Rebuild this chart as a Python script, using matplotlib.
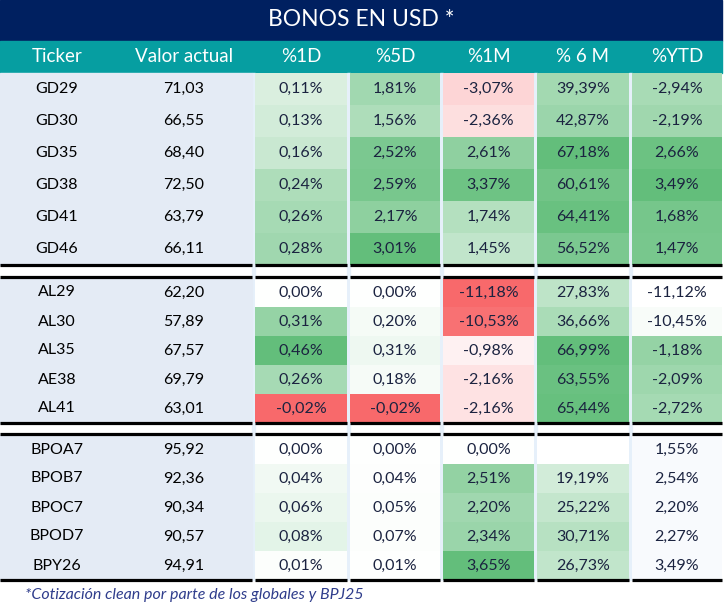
import matplotlib.pyplot as plt
from matplotlib.patches import Rectangle
from matplotlib.colors import LinearSegmentedColormap

# table data (3 groups of bonds)
tickers = ["GD29", "GD30", "GD35", "GD38", "GD41", "GD46",
           "AL29", "AL30", "AL35", "AE38", "AL41",
           "BPOA7", "BPOB7", "BPOC7", "BPOD7", "BPY26"]
group_sizes = [6, 5, 5]
valor = [71.03, 66.55, 68.40, 72.50, 63.79, 66.11,
         62.20, 57.89, 67.57, 69.79, 63.01,
         95.92, 92.36, 90.34, 90.57, 94.91]
var_1d = [0.11, 0.13, 0.16, 0.24, 0.26, 0.28,
          0.00, 0.31, 0.46, 0.26, -0.02,
          0.00, 0.04, 0.06, 0.08, 0.01]
var_5d = [1.81, 1.56, 2.52, 2.59, 2.17, 3.01,
          0.00, 0.20, 0.31, 0.18, -0.02,
          0.00, 0.04, 0.05, 0.07, 0.01]
var_1m = [-3.07, -2.36, 2.61, 3.37, 1.74, 1.45,
          -11.18, -10.53, -0.98, -2.16, -2.16,
          0.00, 2.51, 2.20, 2.34, 3.65]
var_6m = [39.39, 42.87, 67.18, 60.61, 64.41, 56.52,
          27.83, 36.66, 66.99, 63.55, 65.44,
          None, 19.19, 25.22, 30.71, 26.73]
var_ytd = [-2.94, -2.19, 2.66, 3.49, 1.68, 1.47,
           -11.12, -10.45, -1.18, -2.09, -2.72,
           1.55, 2.54, 2.20, 2.27, 3.49]

headers = ["Ticker", "Valor actual", "%1D", "%5D", "%1M", "% 6 M", "%YTD"]
title = "BONOS EN USD *"
note = "*Cotización clean por parte de los globales y BPJ25"

# layout in pixels
W, H = 724, 610
NAVY = "#002060"
TEAL = "#069ea1"
LEFT_BG = "#e4ebf5"
SEP = "#e6f0fa"
FONT = "Lato"

pct_cols = [(255, 347), (350, 440), (443, 534), (537, 629), (632, 722)]
row_h = [32, 29, 29]
group_top = [73, 278, 435]
lines_y = [265, 277, 423, 434, 580]

red_white_green = LinearSegmentedColormap.from_list("rwg", ["#f8696b", "#ffffff", "#63be7b"])
white_green = LinearSegmentedColormap.from_list("wg", ["#ffffff", "#63be7b"])


def diverging_color(v, vals):
    vals = [x for x in vals if x is not None]
    if v is None:
        return "#ffffff"
    if v >= 0:
        return red_white_green(0.5 + 0.5 * v / max(vals))
    return red_white_green(0.5 - 0.5 * v / min(vals))


def fmt(v):
    return "{:.2f}".format(v).replace(".", ",")


fig = plt.figure(figsize=(7.24, 6.10), dpi=100)
ax = fig.add_axes([0, 0, 1, 1])
ax.set_xlim(0, W)
ax.set_ylim(H, 0)
ax.axis("off")

# title bar and header
ax.add_patch(Rectangle((0, 0), 722, 41, color=NAVY))
ax.text(361, 20, title, color="white", fontsize=16.5, ha="center", va="center", family=FONT)
ax.add_patch(Rectangle((0, 41), 722, 32, color=TEAL))
header_x = [57, 184] + [(a + b) / 2 for a, b in pct_cols]
for x, h in zip(header_x, headers):
    ax.text(x, 57, h, color="white", fontsize=13.5, ha="center", va="center", family=FONT)

# vertical separators
ax.add_patch(Rectangle((252, 73), 3, 507, color=SEP))
for a, b in pct_cols[:-1]:
    ax.add_patch(Rectangle((b, 73), 3, 507, color=SEP))

pct_series = [var_1d, var_5d, var_1m, var_6m]
ytd_ref = var_ytd[:group_sizes[0] + group_sizes[1]]

i = 0
for g, n in enumerate(group_sizes):
    top = group_top[g]
    ax.add_patch(Rectangle((0, top), 252, n * row_h[g], color=LEFT_BG))
    for k in range(n):
        y0 = top + k * row_h[g]
        yc = y0 + row_h[g] / 2
        ax.text(57, yc, tickers[i], fontsize=11.5, ha="center", va="center", color="black", family=FONT)
        ax.text(184, yc, fmt(valor[i]), fontsize=11.5, ha="center", va="center", color="black", family=FONT)
        for c, series in enumerate(pct_series + [var_ytd]):
            a, b = pct_cols[c]
            v = series[i]
            if c < 4:
                col = diverging_color(v, series)
            elif g < 2:
                col = white_green((v - min(ytd_ref)) / (max(ytd_ref) - min(ytd_ref)))
            else:
                col = "#f8fafd"
            ax.add_patch(Rectangle((a, y0), b - a, row_h[g], color=col, lw=0))
            if v is not None:
                ax.text((a + b) / 2, yc, fmt(v) + "%", fontsize=11.5, ha="center", va="center",
                        color="#1b2340", family=FONT)
        i += 1

# thick black group borders
segments = [(0, 252)] + pct_cols
for y in lines_y:
    for a, b in segments:
        ax.plot([a, b], [y, y], color="black", lw=2.3, solid_capstyle="butt")

ax.text(25, 595, note, fontsize=11.5, style="italic", color="#2f3d8c", ha="left", va="center", family=FONT)

fig.savefig("out.png", dpi=100)
